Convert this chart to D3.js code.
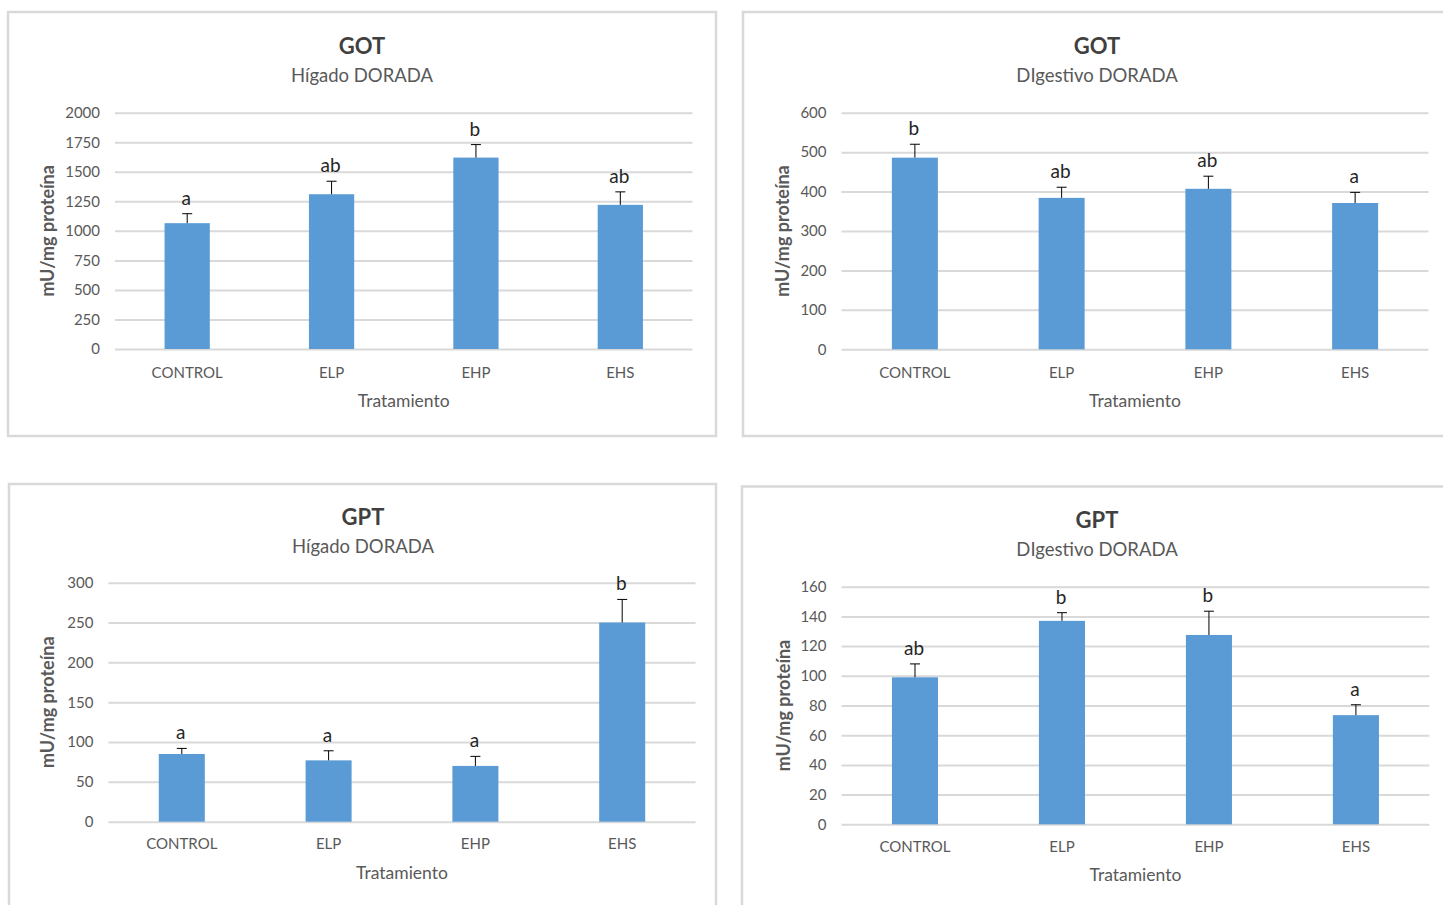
<!DOCTYPE html>
<html>
<head>
<meta charset="utf-8">
<script src="https://cdn.jsdelivr.net/npm/d3@7"></script>
<style>
  body { margin: 0; background: #fff; }
  svg text { font-family: Lato, "Open Sans", sans-serif; }
</style>
</head>
<body>
<div id="chart"></div>
<script>
// DATA
var categories = ["CONTROL", "ELP", "EHP", "EHS"];

var gotHigadoMeans = [1065, 1310, 1620, 1220];
var gotHigadoErr = [80, 110, 110, 110];
var gotHigadoLetters = ["a", "ab", "b", "ab"];
var gotHigadoTicks = [0, 250, 500, 750, 1000, 1250, 1500, 1750, 2000];

var gotDigestMeans = [486, 384, 407, 371];
var gotDigestErr = [34, 27, 32, 27];
var gotDigestLetters = ["b", "ab", "ab", "a"];
var gotDigestTicks = [0, 100, 200, 300, 400, 500, 600];

var gptHigadoMeans = [85, 77, 70, 250];
var gptHigadoErr = [7, 12, 12, 29];
var gptHigadoLetters = ["a", "a", "a", "b"];
var gptHigadoTicks = [0, 50, 100, 150, 200, 250, 300];

var gptDigestMeans = [99, 137, 127.5, 73.5];
var gptDigestErr = [9, 5.5, 16, 7];
var gptDigestLetters = ["ab", "b", "b", "a"];
var gptDigestTicks = [0, 20, 40, 60, 80, 100, 120, 140, 160];

var width = 1443, height = 905;
var barColor = "#5B9BD5";
var gridColor = "#d9d9d9";
var textColor = "#595959";

var svg = d3.select("#chart").append("svg")
    .attr("width", width)
    .attr("height", height);

// panel layout: box = frame, plot = plotting area
var panels = [
  { title: "GOT", subtitle: "Hígado DORADA", means: gotHigadoMeans, err: gotHigadoErr, letters: gotHigadoLetters, ticks: gotHigadoTicks,
    box: [8, 12, 716, 436], plot: [115, 112.7, 692.5, 349], cx: 362, yTitleX: 47, titleY: 54, subY: 82, xLabY: 378, xTitleY: 407 },
  { title: "GOT", subtitle: "DIgestivo DORADA", means: gotDigestMeans, err: gotDigestErr, letters: gotDigestLetters, ticks: gotDigestTicks,
    box: [743, 12, 1460, 436], plot: [841.5, 112.7, 1428.5, 349.3], cx: 1097, yTitleX: 782, titleY: 54, subY: 82, xLabY: 378, xTitleY: 407 },
  { title: "GPT", subtitle: "Hígado DORADA", means: gptHigadoMeans, err: gptHigadoErr, letters: gptHigadoLetters, ticks: gptHigadoTicks,
    box: [9, 484, 716, 930], plot: [108.4, 582.7, 695.6, 821.7], cx: 363, yTitleX: 47, titleY: 525, subY: 553, xLabY: 849, xTitleY: 879 },
  { title: "GPT", subtitle: "DIgestivo DORADA", means: gptDigestMeans, err: gptDigestErr, letters: gptDigestLetters, ticks: gptDigestTicks,
    box: [742, 486.5, 1460, 930], plot: [841.5, 586.7, 1429.4, 824.3], cx: 1097, yTitleX: 783, titleY: 528, subY: 556, xLabY: 852, xTitleY: 881 }
];

panels.forEach(function(p) {
  var g = svg.append("g");

  g.append("rect")
    .attr("x", p.box[0])
    .attr("y", p.box[1])
    .attr("width", p.box[2] - p.box[0])
    .attr("height", p.box[3] - p.box[1])
    .attr("fill", "#fff")
    .attr("stroke", gridColor)
    .attr("stroke-width", 2.5);

  var x = d3.scaleBand()
      .domain(categories)
      .range([p.plot[0], p.plot[2]])
      .paddingInner(0.6865)
      .paddingOuter(0.6865 / 2);

  var y = d3.scaleLinear()
      .domain([0, d3.max(p.ticks)])
      .range([p.plot[3], p.plot[1]]);

  // titles
  g.append("text")
    .attr("x", p.cx)
    .attr("y", p.titleY)
    .attr("text-anchor", "middle")
    .attr("font-size", 22)
    .attr("font-weight", "bold")
    .attr("fill", "#404040")
    .text(p.title);
  g.append("text")
    .attr("x", p.cx)
    .attr("y", p.subY)
    .attr("text-anchor", "middle")
    .attr("font-size", 18.5)
    .attr("fill", textColor)
    .text(p.subtitle);

  // gridlines + y labels
  var yAxis = d3.axisLeft(y)
      .tickValues(p.ticks)
      .tickSize(-(p.plot[2] - p.plot[0]))
      .tickPadding(15)
      .tickFormat(d3.format("d"));
  var ya = g.append("g")
    .attr("transform", "translate(" + p.plot[0] + ",0)")
    .call(yAxis);
  ya.select(".domain").remove();
  ya.selectAll(".tick line")
    .attr("stroke", gridColor)
    .attr("stroke-width", 2);
  ya.selectAll(".tick text")
    .attr("font-size", 15)
    .attr("fill", textColor)
    .attr("font-family", "Lato");

  // y axis title
  g.append("text")
    .attr("transform", "translate(" + p.yTitleX + "," + ((p.plot[1] + p.plot[3]) / 2) + ") rotate(-90)")
    .attr("text-anchor", "middle")
    .attr("dominant-baseline", "central")
    .attr("font-size", 18)
    .attr("font-weight", "bold")
    .attr("fill", textColor)
    .text("mU/mg proteína");

  // x labels
  g.selectAll(".xlab")
    .data(categories)
    .enter()
    .append("text")
    .attr("x", function(d) { return x(d) + x.bandwidth() / 2; })
    .attr("y", p.xLabY)
    .attr("text-anchor", "middle")
    .attr("font-size", 15)
    .attr("fill", textColor)
    .text(function(d) { return d; });

  g.append("text")
    .attr("x", (p.plot[0] + p.plot[2]) / 2)
    .attr("y", p.xTitleY)
    .attr("text-anchor", "middle")
    .attr("font-size", 17.5)
    .attr("fill", textColor)
    .text("Tratamiento");

  var rows = categories.map(function(c, i) {
    return { cat: c, v: p.means[i], e: p.err[i], l: p.letters[i] };
  });

  // bars
  g.selectAll(".bar")
    .data(rows)
    .enter()
    .append("rect")
    .attr("x", function(d) { return x(d.cat); })
    .attr("y", function(d) { return y(d.v); })
    .attr("width", x.bandwidth())
    .attr("height", function(d) { return y(0) - y(d.v); })
    .attr("fill", barColor);

  // error bars (upper only)
  g.selectAll(".err")
    .data(rows)
    .enter()
    .append("line")
    .attr("x1", function(d) { return x(d.cat) + x.bandwidth() / 2; })
    .attr("x2", function(d) { return x(d.cat) + x.bandwidth() / 2; })
    .attr("y1", function(d) { return y(d.v); })
    .attr("y2", function(d) { return y(d.v + d.e); })
    .attr("stroke", "#000")
    .attr("stroke-width", 1);
  g.selectAll(".cap")
    .data(rows)
    .enter()
    .append("line")
    .attr("x1", function(d) { return x(d.cat) + x.bandwidth() / 2 - 5; })
    .attr("x2", function(d) { return x(d.cat) + x.bandwidth() / 2 + 5; })
    .attr("y1", function(d) { return y(d.v + d.e); })
    .attr("y2", function(d) { return y(d.v + d.e); })
    .attr("stroke", "#000")
    .attr("stroke-width", 1);

  // significance letters
  g.selectAll(".letter")
    .data(rows)
    .enter()
    .append("text")
    .attr("x", function(d) { return x(d.cat) + x.bandwidth() / 2 - 1; })
    .attr("y", function(d) { return y(d.v + d.e) - 9; })
    .attr("text-anchor", "middle")
    .attr("font-size", 19)
    .attr("fill", "#262626")
    .text(function(d) { return d.l; });
});
</script>
</body>
</html>
